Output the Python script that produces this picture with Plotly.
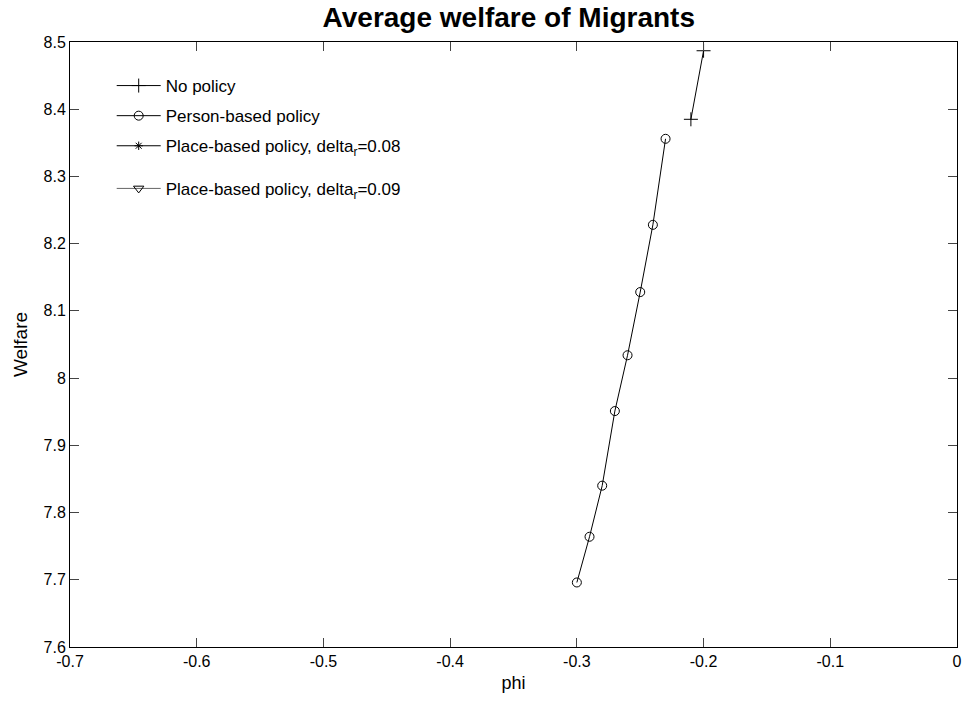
import plotly.graph_objects as go

# Data
phi_nopolicy = [-0.21, -0.20]
welfare_nopolicy = [8.385, 8.487]

phi_person = [-0.30, -0.29, -0.28, -0.27, -0.26, -0.25, -0.24, -0.23]
welfare_person = [7.696, 7.764, 7.840, 7.951, 8.034, 8.128, 8.228, 8.356]

# place-based series have no visible points in the plotted range
phi_place08 = [None]
welfare_place08 = [None]
phi_place09 = [None]
welfare_place09 = [None]

x_ticks = [-0.7, -0.6, -0.5, -0.4, -0.3, -0.2, -0.1, 0]
x_ticklabels = ["-0.7", "-0.6", "-0.5", "-0.4", "-0.3", "-0.2", "-0.1", "0"]
y_ticks = [7.6, 7.7, 7.8, 7.9, 8.0, 8.1, 8.2, 8.3, 8.4, 8.5]
y_ticklabels = ["7.6", "7.7", "7.8", "7.9", "8", "8.1", "8.2", "8.3", "8.4", "8.5"]

FONT = "Arial, Liberation Sans, Helvetica, sans-serif"
line = dict(color="black", width=1)

fig = go.Figure()
fig.add_trace(go.Scatter(x=phi_nopolicy, y=welfare_nopolicy, mode="lines+markers",
                         name="No policy", line=line, legendgroup="a",
                         marker=dict(symbol="cross-thin-open", size=10, color="black",
                                     line=dict(color="black", width=1))))
fig.add_trace(go.Scatter(x=phi_person, y=welfare_person, mode="lines+markers",
                         name="Person-based policy", line=line, legendgroup="b",
                         marker=dict(symbol="circle-open", size=9, color="black",
                                     line=dict(color="black", width=1))))
fig.add_trace(go.Scatter(x=phi_place08, y=welfare_place08, mode="lines+markers",
                         name="Place-based policy, delta<sub>r</sub>=0.08", line=line,
                         legendgroup="c",
                         marker=dict(symbol="asterisk-open", size=7, color="black",
                                     line=dict(color="black", width=1))))
fig.add_trace(go.Scatter(x=phi_place09, y=welfare_place09, mode="lines+markers",
                         name="Place-based policy, delta<sub>r</sub>=0.09",
                         line=dict(color="#666666", width=1), legendgroup="d",
                         legend="legend2",
                         marker=dict(symbol="triangle-down-open", size=9, color="black",
                                     line=dict(color="black", width=1))))

axis_common = dict(
    showgrid=False, zeroline=False, showline=True, linecolor="black", linewidth=1,
    mirror="ticks", ticks="inside", ticklen=9, tickcolor="#444444", tickwidth=1,
    tickfont=dict(family=FONT, size=16, color="black"),
)

legend_common = dict(
    xanchor="left", yanchor="top",
    bgcolor="rgba(255,255,255,0)", borderwidth=0,
    font=dict(family=FONT, size=17, color="black"),
    traceorder="grouped", tracegroupgap=5, itemwidth=44,
)

fig.update_layout(
    width=971, height=701,
    paper_bgcolor="white", plot_bgcolor="white",
    margin=dict(l=70, r=9, t=42, b=54),
    title=dict(text="<b>Average welfare of Migrants</b>", x=0.524, xanchor="center",
               y=0.976, yanchor="middle",
               font=dict(family=FONT, size=28, color="black")),
    xaxis=dict(range=[-0.7, 0], tickvals=x_ticks, ticktext=x_ticklabels,
               title=dict(text="phi", font=dict(family=FONT, size=18, color="black"), standoff=7),
               **axis_common),
    yaxis=dict(range=[7.6, 8.5], tickvals=y_ticks, ticktext=y_ticklabels,
               title=dict(text="Welfare", font=dict(family=FONT, size=19, color="black"), standoff=10),
               **axis_common),
    legend=dict(x=0.047, y=0.957, **legend_common),
    legend2=dict(x=0.047, y=0.787, **legend_common),
    showlegend=True,
)

fig.write_html("out.html", config={"displayModeBar": False},
               post_script="document.body.style.margin='0px';")
